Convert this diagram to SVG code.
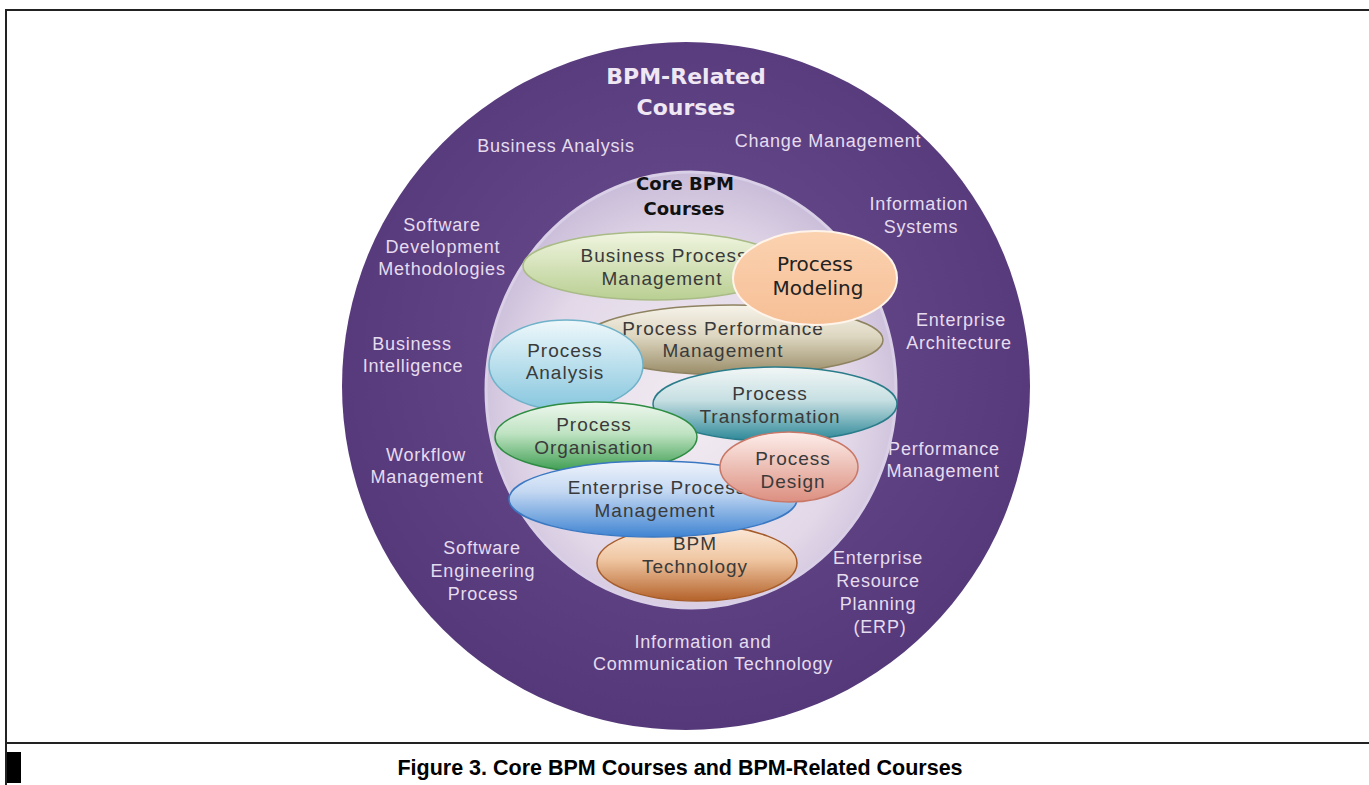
<svg xmlns="http://www.w3.org/2000/svg" width="1369" height="785" viewBox="0 0 1369 785">
<style>
.outer{font-family:"Liberation Sans",Arial,sans-serif;font-size:18px;fill:#e6dcef;letter-spacing:0.8px;text-anchor:middle}
.inner{font-family:"Liberation Sans",Arial,sans-serif;font-size:19px;fill:#3a3a3a;letter-spacing:1px;text-anchor:middle}
.big{font-family:"DejaVu Sans",Verdana,sans-serif;font-weight:bold;font-size:22px;fill:#efe7f4;text-anchor:middle}
.core{font-family:"DejaVu Sans",Verdana,sans-serif;font-weight:bold;font-size:18px;fill:#111;text-anchor:middle}
.model{font-family:"DejaVu Sans",Verdana,sans-serif;font-size:20px;fill:#222;text-anchor:middle}
.cap{font-family:"Liberation Sans",Arial,sans-serif;font-weight:bold;font-size:21.5px;fill:#000;text-anchor:middle}
.frame{stroke:#222;stroke-width:2;fill:none}
</style>
<defs>
<radialGradient id="gOuter" cx="0.5" cy="0.45" r="0.55">
<stop offset="0" stop-color="#6b4f90"/><stop offset="1" stop-color="#553879"/>
</radialGradient>
<radialGradient id="gInner" cx="0.5" cy="0.55" r="0.55">
<stop offset="0" stop-color="#f3ecf2"/><stop offset="0.7" stop-color="#e2d8e8"/><stop offset="1" stop-color="#c9bcd9"/>
</radialGradient>
<linearGradient id="gGreen1" x1="0" y1="0" x2="0" y2="1"><stop offset="0" stop-color="#f0f5e0"/><stop offset="1" stop-color="#b9cf92"/></linearGradient>
<linearGradient id="gPeach" x1="0" y1="0" x2="0" y2="1"><stop offset="0" stop-color="#fbd2b0"/><stop offset="1" stop-color="#f6bf96"/></linearGradient>
<linearGradient id="gTan" x1="0" y1="0" x2="0" y2="1"><stop offset="0" stop-color="#f6f3ea"/><stop offset="0.45" stop-color="#ddd6c0"/><stop offset="1" stop-color="#988b66"/></linearGradient>
<linearGradient id="gLBlue" x1="0" y1="0" x2="0" y2="1"><stop offset="0" stop-color="#eef8fb"/><stop offset="1" stop-color="#86c6de"/></linearGradient>
<linearGradient id="gTeal" x1="0" y1="0" x2="0" y2="1"><stop offset="0" stop-color="#f2f6f6"/><stop offset="0.45" stop-color="#c6dfe2"/><stop offset="1" stop-color="#2b8797"/></linearGradient>
<linearGradient id="gGreen2" x1="0" y1="0" x2="0" y2="1"><stop offset="0" stop-color="#eef7ee"/><stop offset="0.45" stop-color="#bfe3c2"/><stop offset="1" stop-color="#3b9c4f"/></linearGradient>
<linearGradient id="gPink" x1="0" y1="0" x2="0" y2="1"><stop offset="0" stop-color="#fdeeea"/><stop offset="1" stop-color="#dc8f80"/></linearGradient>
<linearGradient id="gBlue" x1="0" y1="0" x2="0" y2="1"><stop offset="0" stop-color="#eef3fb"/><stop offset="0.4" stop-color="#c4d8f2"/><stop offset="1" stop-color="#3f84d2"/></linearGradient>
<linearGradient id="gBrown" x1="0" y1="0" x2="0" y2="1"><stop offset="0" stop-color="#fcebdc"/><stop offset="0.45" stop-color="#f0c7a3"/><stop offset="1" stop-color="#b4622a"/></linearGradient>
</defs>

<rect x="0" y="0" width="1369" height="785" fill="#fff"/>

<g id="frame">
<line class="frame" x1="6" y1="10" x2="1369" y2="10"/>
<line class="frame" x1="6" y1="9" x2="6" y2="785"/>
<line class="frame" x1="6" y1="743" x2="1369" y2="743"/>
<rect x="7" y="752" width="14" height="31" fill="#000"/>
</g>

<g id="outer-circle">
<ellipse cx="686" cy="386" rx="344" ry="344" fill="url(#gOuter)"/>
<text class="big" x="686" y="84">BPM-Related</text>
<text class="big" x="686" y="115">Courses</text>
<text class="outer" x="556" y="152">Business Analysis</text>
<text class="outer" x="828" y="147">Change Management</text>
<text class="outer" x="919" y="210">Information</text>
<text class="outer" x="921" y="233">Systems</text>
<text class="outer" x="961" y="326">Enterprise</text>
<text class="outer" x="959" y="349">Architecture</text>
<text class="outer" x="944" y="455">Performance</text>
<text class="outer" x="943" y="477">Management</text>
<text class="outer" x="878" y="564">Enterprise</text>
<text class="outer" x="878" y="587">Resource</text>
<text class="outer" x="878" y="610">Planning</text>
<text class="outer" x="880" y="633">(ERP)</text>
<text class="outer" x="703" y="648">Information and</text>
<text class="outer" x="713" y="670">Communication Technology</text>
<text class="outer" x="482" y="554">Software</text>
<text class="outer" x="483" y="577">Engineering</text>
<text class="outer" x="483" y="600">Process</text>
<text class="outer" x="426" y="461">Workflow</text>
<text class="outer" x="427" y="483">Management</text>
<text class="outer" x="412" y="350">Business</text>
<text class="outer" x="413" y="372">Intelligence</text>
<text class="outer" x="442" y="231">Software</text>
<text class="outer" x="443" y="253">Development</text>
<text class="outer" x="442" y="275">Methodologies</text>
</g>

<g id="inner-circle">
<ellipse cx="691" cy="390" rx="205" ry="218" fill="url(#gInner)" stroke="#d9cfe6" stroke-width="3"/>
<text class="core" x="685" y="190">Core BPM</text>
<text class="core" x="684" y="215">Courses</text>
</g>

<g id="bpm-technology">
<ellipse cx="697" cy="563" rx="100" ry="38" fill="url(#gBrown)" stroke="#a65c2a" stroke-width="1.5"/>
<text class="inner" x="695" y="550">BPM</text>
<text class="inner" x="695" y="573">Technology</text>
</g>

<g id="business-process-management">
<ellipse cx="655" cy="266" rx="132" ry="34" fill="url(#gGreen1)" stroke="#a9bb86" stroke-width="1.5"/>
<text class="inner" x="664" y="262">Business Process</text>
<text class="inner" x="662" y="285">Management</text>
</g>

<g id="process-performance-management">
<ellipse cx="733" cy="340" rx="150" ry="35" fill="url(#gTan)" stroke="#8e8260" stroke-width="1.5"/>
<text class="inner" x="723" y="335">Process Performance</text>
<text class="inner" x="723" y="357">Management</text>
</g>

<g id="process-modeling">
<ellipse cx="815" cy="278" rx="82" ry="47" fill="url(#gPeach)" stroke="#fff4ea" stroke-width="2"/>
<text class="model" x="815" y="271">Process</text>
<text class="model" x="818" y="295">Modeling</text>
</g>

<g id="process-analysis">
<ellipse cx="566" cy="365" rx="77" ry="45" fill="url(#gLBlue)" stroke="#6fb2c9" stroke-width="1.5"/>
<text class="inner" x="565" y="357">Process</text>
<text class="inner" x="565" y="379">Analysis</text>
</g>

<g id="process-transformation">
<ellipse cx="775" cy="404" rx="122" ry="37" fill="url(#gTeal)" stroke="#2a7c8a" stroke-width="1.5"/>
<text class="inner" x="770" y="400">Process</text>
<text class="inner" x="770" y="423">Transformation</text>
</g>

<g id="process-organisation">
<ellipse cx="596" cy="437" rx="101" ry="35" fill="url(#gGreen2)" stroke="#2f8c43" stroke-width="1.5"/>
<text class="inner" x="594" y="431">Process</text>
<text class="inner" x="594" y="454">Organisation</text>
</g>

<g id="enterprise-process-management">
<ellipse cx="653" cy="499" rx="144" ry="38" fill="url(#gBlue)" stroke="#3a78c2" stroke-width="1.5"/>
<text class="inner" x="657" y="494">Enterprise Process</text>
<text class="inner" x="655" y="517">Management</text>
</g>

<g id="process-design">
<ellipse cx="789" cy="467" rx="69" ry="35" fill="url(#gPink)" stroke="#c97868" stroke-width="1.5"/>
<text class="inner" x="793" y="465">Process</text>
<text class="inner" x="793" y="488">Design</text>
</g>

<g id="connectors"></g>

<g id="caption">
<text class="cap" x="680" y="775">Figure 3. Core BPM Courses and BPM-Related Courses</text>
</g>
</svg>
